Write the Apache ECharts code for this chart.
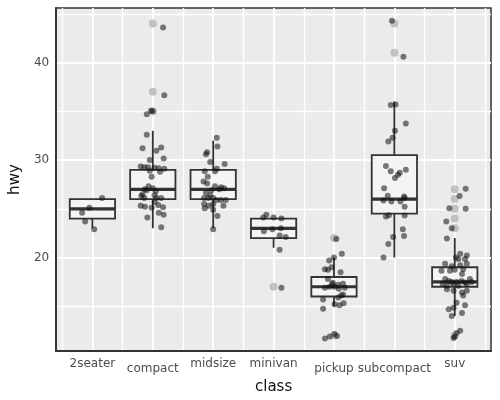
<!DOCTYPE html>
<html>
<head>
<meta charset="utf-8">
<script src="https://cdn.jsdelivr.net/npm/echarts@6/dist/echarts.min.js"></script>
<style>
html, body { margin: 0; padding: 0; background: #fff; }
#chart { width: 500px; height: 400px; }
</style>
</head>
<body>
<div id="chart"></div>
<script>
var classes = ['2seater', 'compact', 'midsize', 'minivan', 'pickup', 'subcompact', 'suv'];
var yTicks = [20, 30, 40];

// box stats: [lower whisker, q1, median, q3, upper whisker]
var boxStats = [
	[23, 24, 25, 26, 26],
	[23, 26, 27, 29, 33],
	[23, 26, 27, 29, 32],
	[21, 22, 23, 24, 24],
	[15, 16, 17, 18, 20],
	[20, 24.5, 26, 30.5, 36],
	[14, 17, 17.5, 19, 22]
];

// boxplot outliers: [class index, hwy]
var outliers = [
	[1, 44], [1, 37], [1, 35], [3, 17], [4, 22], [4, 12],
	[5, 44], [5, 41], [6, 27], [6, 26], [6, 25], [6, 24], [6, 23], [6, 12]
];

// jittered points: [horizontal jitter, hwy]
var pts2seater = [[0.16, 26.1], [-0.17, 24.6], [-0.12, 23.7], [0.03, 22.9], [-0.05, 25.1]];
var ptsCompact = [
	[-0.1, 32.6], [-0.17, 31.2], [0.06, 30.95], [0.14, 31.3], [-0.05, 30.0], [0.18, 30.15],
	[-0.2, 29.35], [-0.14, 29.25], [-0.08, 29.25], [0.03, 29.2], [0.1, 29.15], [0.19, 29.1],
	[-0.02, 28.3], [-0.07, 27.3], [-0.13, 27.0], [-0.17, 26.5], [-0.19, 26.3], [-0.14, 26.1],
	[0.03, 26.4], [0.06, 26.1], [0.03, 25.7], [0.14, 26.1], [-0.2, 25.3], [-0.13, 25.2],
	[-0.02, 25.1], [0.09, 25.4], [0.17, 25.15], [0.1, 24.6], [0.18, 24.4], [-0.09, 24.1],
	[0.14, 23.1], [0.17, 43.6], [0.19, 36.65], [-0.03, 35.05], [-0.1, 34.7], [0.0, 35.0],
	[-0.1, 26.9], [0.0, 27.1], [0.05, 26.8], [-0.05, 28.9], [0.12, 28.8]
];
var ptsMidsize = [
	[0.06, 32.3], [0.07, 31.4], [-0.1, 30.8], [-0.12, 30.6], [-0.05, 29.8], [0.19, 29.6],
	[0.06, 29.1], [0.03, 28.85], [-0.14, 28.85], [-0.09, 28.3], [-0.16, 27.8], [-0.1, 27.6],
	[0.03, 27.3], [0.13, 27.2], [0.18, 27.1], [-0.12, 26.65], [-0.05, 26.4], [-0.15, 26.1],
	[-0.08, 26.1], [0.0, 26.1], [0.06, 25.9], [0.13, 25.9], [0.21, 25.9], [-0.15, 25.5],
	[-0.07, 25.3], [0.0, 25.5], [0.17, 25.3], [-0.14, 25.05], [0.0, 24.9], [0.07, 24.25],
	[0.0, 22.9], [0.1, 27.0], [-0.03, 26.9]
];
var ptsMinivan = [
	[-0.12, 24.4], [-0.17, 24.1], [0.13, 24.0], [-0.16, 22.7], [0.12, 23.0], [0.1, 22.25],
	[0.2, 22.1], [0.1, 20.8], [0.13, 16.9], [-0.02, 22.9], [0.0, 24.1]
];
var ptsPickup = [
	[0.04, 21.9], [0.13, 20.4], [-0.08, 19.7], [0.0, 20.0], [-0.04, 19.0], [-0.15, 18.8],
	[-0.1, 18.75], [0.11, 18.5], [-0.1, 17.8], [-0.02, 17.4], [0.07, 17.2], [0.15, 17.3],
	[0.01, 17.0], [-0.07, 17.0], [0.18, 16.9], [-0.15, 16.9], [0.12, 16.1], [0.15, 16.2],
	[0.07, 15.9], [-0.18, 15.7], [0.01, 15.2], [0.09, 15.1], [0.16, 15.3], [-0.18, 14.75],
	[-0.15, 11.7], [-0.07, 11.9], [0.01, 12.15], [0.05, 11.95], [0.08, 16.8], [-0.03, 17.25]
];
var ptsSubcompact = [
	[-0.04, 44.3], [0.15, 40.6], [-0.06, 35.65], [0.02, 35.7], [0.19, 33.75], [0.01, 33.0],
	[-0.03, 32.3], [-0.1, 31.9], [-0.14, 29.4], [-0.06, 28.85], [0.19, 29.0], [0.09, 28.7],
	[0.06, 28.5], [0.01, 28.15], [-0.17, 27.1], [-0.11, 26.35], [0.16, 26.25], [-0.18, 25.85],
	[-0.05, 25.75], [0.1, 25.75], [0.17, 26.1], [0.17, 25.2], [-0.14, 24.2], [-0.09, 24.35],
	[0.17, 24.3], [0.14, 22.9], [0.16, 22.2], [-0.02, 22.1], [-0.1, 21.4], [-0.18, 20.0]
];
var ptsSuv = [
	[0.18, 27.05], [0.08, 26.3], [-0.09, 25.05], [0.18, 25.0], [-0.14, 23.7], [-0.05, 23.0],
	[-0.13, 21.95], [0.09, 20.4], [0.2, 20.2], [0.02, 20.0], [0.17, 19.85], [0.06, 19.85],
	[-0.16, 19.35], [-0.05, 19.1], [0.09, 19.2], [0.2, 19.35], [-0.08, 18.65], [0.0, 18.75],
	[0.14, 18.8], [-0.22, 18.65], [0.12, 18.3], [-0.16, 17.8], [-0.1, 17.6], [-0.05, 17.5],
	[0.03, 17.5], [0.11, 17.6], [0.17, 17.45], [0.25, 17.8], [-0.2, 17.3], [-0.13, 17.1],
	[-0.02, 17.3], [0.06, 17.1], [0.2, 17.3], [0.28, 17.5], [-0.13, 16.75], [-0.02, 16.6],
	[0.12, 16.4], [0.2, 16.6], [0.14, 16.1], [0.03, 15.35], [0.17, 15.1], [-0.1, 14.7],
	[-0.02, 14.85], [0.12, 14.3], [-0.05, 14.0], [0.09, 12.5], [0.03, 12.25], [0.0, 11.9],
	[-0.02, 11.75]
];
var jitterByClass = [pts2seater, ptsCompact, ptsMidsize, ptsMinivan, ptsPickup, ptsSubcompact, ptsSuv];

var boxData = boxStats.map(function (s, i) { return [i].concat(s); });
var jitterData = [];
jitterByClass.forEach(function (pts, i) {
	pts.forEach(function (p) { jitterData.push([i + p[0], p[1]]); });
});

function renderBox(params, api) {
	var x = api.value(0);
	var half = api.size([0.75, 0])[0] / 2;
	var lo = api.coord([x, api.value(1)]);
	var q1 = api.coord([x, api.value(2)]);
	var md = api.coord([x, api.value(3)]);
	var q3 = api.coord([x, api.value(4)]);
	var hi = api.coord([x, api.value(5)]);
	var ln = { stroke: '#333', lineWidth: 1.8 };
	return {
		type: 'group',
		children: [
			{ type: 'line', shape: { x1: lo[0], y1: lo[1], x2: q1[0], y2: q1[1] }, style: ln },
			{ type: 'line', shape: { x1: q3[0], y1: q3[1], x2: hi[0], y2: hi[1] }, style: ln },
			{ type: 'rect', shape: { x: q3[0] - half, y: q3[1], width: half * 2, height: q1[1] - q3[1] },
				style: { fill: '#f4f4f4', stroke: '#333', lineWidth: 1.8 } },
			{ type: 'line', shape: { x1: md[0] - half, y1: md[1], x2: md[0] + half, y2: md[1] },
				style: { stroke: '#333', lineWidth: 3.2 } }
		]
	};
}

var chart = echarts.init(document.getElementById('chart'));
var option = {
	animation: false,
	textStyle: { fontFamily: 'DejaVu Sans' },
	grid: {
		left: 52, right: 9, top: 8, bottom: 48,
		show: true, backgroundColor: '#ebebeb', borderColor: '#333', borderWidth: 1.5
	},
	xAxis: {
		type: 'value', min: -0.6, max: 6.6, minInterval: 1, maxInterval: 1,
		name: 'class', nameLocation: 'middle', nameGap: 23,
		nameTextStyle: { color: '#111', fontSize: 15 },
		axisLine: { show: true, onZero: false, lineStyle: { color: '#333', width: 2 } },
		axisTick: { show: false },
		axisLabel: {
			color: '#4d4d4d', fontSize: 12, margin: 7,
			showMinLabel: false, showMaxLabel: false,
			formatter: function (v) {
				var name = classes[Math.round(v)];
				if (Math.abs(v - Math.round(v)) > 1e-6 || !name) return '';
				return /[pyg]/.test(name) ? '{d|' + name + '}' : name;
			},
			rich: { d: { color: '#4d4d4d', fontSize: 12, padding: [5, 0, 0, 0] } }
		},
		splitLine: { show: true, showMinLine: false, showMaxLine: false, lineStyle: { color: '#fff', width: 1.8 } },
		minorTick: { show: false, splitNumber: 2 },
		minorSplitLine: { show: true, lineStyle: { color: '#fff', width: 1.4 } }
	},
	yAxis: {
		type: 'value', min: 10.4, max: 45.6, minInterval: 10, maxInterval: 10,
		name: 'hwy', nameLocation: 'middle', nameGap: 29, nameRotate: 90,
		nameTextStyle: { color: '#111', fontSize: 15 },
		axisLine: { show: true, onZero: false, lineStyle: { color: '#333', width: 2 } },
		axisTick: { show: false },
		axisLabel: {
			color: '#4d4d4d', fontSize: 12, margin: 7,
			showMinLabel: false, showMaxLabel: false,
			formatter: function (v) { return yTicks.indexOf(v) >= 0 ? String(v) : ''; }
		},
		splitLine: { show: true, showMinLine: false, showMaxLine: false, lineStyle: { color: '#fff', width: 1.8 } },
		minorTick: { show: false, splitNumber: 2 },
		minorSplitLine: { show: true, lineStyle: { color: '#fff', width: 1.4 } }
	},
	series: [
		{
			type: 'custom',
			renderItem: renderBox,
			encode: { x: 0, y: [1, 2, 3, 4, 5] },
			data: boxData,
			silent: true
		},
		{
			type: 'scatter',
			symbolSize: 8,
			itemStyle: { color: '#b8b8b8', opacity: 0.85 },
			data: outliers,
			silent: true
		},
		{
			type: 'scatter',
			symbolSize: 6,
			itemStyle: { color: '#111', opacity: 0.55 },
			data: jitterData,
			silent: true
		}
	]
};
chart.setOption(option);
</script>
</body>
</html>
